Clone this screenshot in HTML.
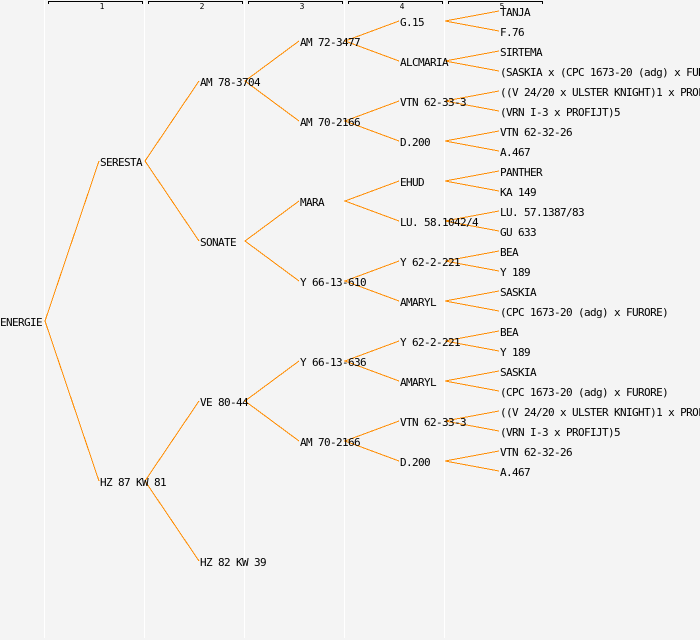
<!DOCTYPE html>
<html><head><meta charset="utf-8"><style>
html,body{margin:0;padding:0;background:#f4f4f4}
svg{display:block}
text{font-family:"DejaVu Sans Mono","Liberation Mono",monospace;font-size:11px;letter-spacing:-0.62px;fill:#000;white-space:pre}
.n{font-size:8px;letter-spacing:0;text-anchor:middle}
</style></head><body>
<svg xmlns="http://www.w3.org/2000/svg" width="700" height="640" viewBox="0 0 700 640">
<rect width="700" height="640" fill="#f4f4f4"/>
<g stroke="#fff" stroke-width="1" shape-rendering="crispEdges">
<path d="M44.5 0V638M144.5 0V638M244.5 0V638M344.5 0V638M444.5 0V638"/>
</g>
<g stroke="#000" fill="none" stroke-width="1" shape-rendering="crispEdges">
<path d="M48.5 4V1.5H142.5V4M148.5 4V1.5H242.5V4M248.5 4V1.5H342.5V4M348.5 4V1.5H442.5V4M448.5 4V1.5H542.5V4"/>
</g>
<g stroke="#ff8c00" fill="none" stroke-width="1" shape-rendering="crispEdges">
<path d="M99 161L45 321L99 481"/>
<path d="M199 81L145 161L199 241"/>
<path d="M199 401L145 481L199 561"/>
<path d="M299 41L245 81L299 121"/>
<path d="M299 201L245 241L299 281"/>
<path d="M299 361L245 401L299 441"/>
<path d="M399 21L345 41L399 61"/>
<path d="M399 101L345 121L399 141"/>
<path d="M399 181L345 201L399 221"/>
<path d="M399 261L345 281L399 301"/>
<path d="M399 341L345 361L399 381"/>
<path d="M399 421L345 441L399 461"/>
<path d="M499 11L445 21L499 31"/>
<path d="M499 51L445 61L499 71"/>
<path d="M499 91L445 101L499 111"/>
<path d="M499 131L445 141L499 151"/>
<path d="M499 171L445 181L499 191"/>
<path d="M499 211L445 221L499 231"/>
<path d="M499 251L445 261L499 271"/>
<path d="M499 291L445 301L499 311"/>
<path d="M499 331L445 341L499 351"/>
<path d="M499 371L445 381L499 391"/>
<path d="M499 411L445 421L499 431"/>
<path d="M499 451L445 461L499 471"/>
</g>
<text class="n" x="102" y="9">1</text>
<text class="n" x="202" y="9">2</text>
<text class="n" x="302" y="9">3</text>
<text class="n" x="402" y="9">4</text>
<text class="n" x="502" y="9">5</text>
<text x="0" y="326">ENERGIE</text>
<text x="100" y="166">SERESTA</text>
<text x="100" y="486">HZ 87 KW 81</text>
<text x="200" y="86">AM 78-3704</text>
<text x="200" y="246">SONATE</text>
<text x="200" y="406">VE 80-44</text>
<text x="200" y="566">HZ 82 KW 39</text>
<text x="300" y="46">AM 72-3477</text>
<text x="300" y="126">AM 70-2166</text>
<text x="300" y="206">MARA</text>
<text x="300" y="286">Y 66-13-610</text>
<text x="300" y="366">Y 66-13-636</text>
<text x="300" y="446">AM 70-2166</text>
<text x="400" y="26">G.15</text>
<text x="400" y="66">ALCMARIA</text>
<text x="400" y="106">VTN 62-33-3</text>
<text x="400" y="146">D.200</text>
<text x="400" y="186">EHUD</text>
<text x="400" y="226">LU. 58.1042/4</text>
<text x="400" y="266">Y 62-2-221</text>
<text x="400" y="306">AMARYL</text>
<text x="400" y="346">Y 62-2-221</text>
<text x="400" y="386">AMARYL</text>
<text x="400" y="426">VTN 62-33-3</text>
<text x="400" y="466">D.200</text>
<text x="500" y="16">TANJA</text>
<text x="500" y="36">F.76</text>
<text x="500" y="56">SIRTEMA</text>
<text x="500" y="76">(SASKIA x (CPC 1673-20 (adg) x FURORE))</text>
<text x="500" y="96">((V 24/20 x ULSTER KNIGHT)1 x PROFIJT)</text>
<text x="500" y="116">(VRN I-3 x PROFIJT)5</text>
<text x="500" y="136">VTN 62-32-26</text>
<text x="500" y="156">A.467</text>
<text x="500" y="176">PANTHER</text>
<text x="500" y="196">KA 149</text>
<text x="500" y="216">LU. 57.1387/83</text>
<text x="500" y="236">GU 633</text>
<text x="500" y="256">BEA</text>
<text x="500" y="276">Y 189</text>
<text x="500" y="296">SASKIA</text>
<text x="500" y="316">(CPC 1673-20 (adg) x FURORE)</text>
<text x="500" y="336">BEA</text>
<text x="500" y="356">Y 189</text>
<text x="500" y="376">SASKIA</text>
<text x="500" y="396">(CPC 1673-20 (adg) x FURORE)</text>
<text x="500" y="416">((V 24/20 x ULSTER KNIGHT)1 x PROFIJT)</text>
<text x="500" y="436">(VRN I-3 x PROFIJT)5</text>
<text x="500" y="456">VTN 62-32-26</text>
<text x="500" y="476">A.467</text>
</svg>
</body></html>
